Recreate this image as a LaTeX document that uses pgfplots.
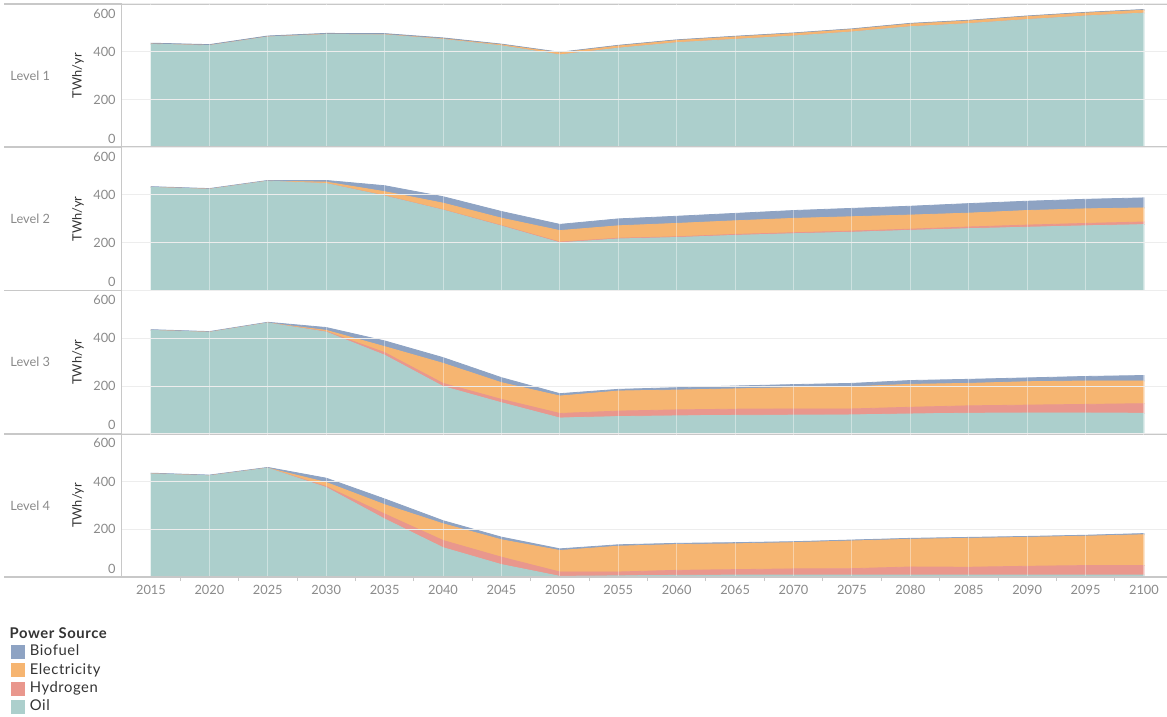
\documentclass[border=0pt]{standalone}
\usepackage{pgfplots}
\usepackage{pgfplotstable}
\pgfplotsset{compat=1.18}
\usepackage{fontspec}
\setmainfont{Lato}

\definecolor{oilc}{HTML}{ACCFCC}
\definecolor{hydc}{HTML}{E9978D}
\definecolor{elec}{HTML}{F6B571}
\definecolor{bioc}{HTML}{8EA3C3}
\definecolor{sepgray}{HTML}{C8C8C8}
\definecolor{gridgray}{HTML}{EDEDED}
\definecolor{tickgray}{HTML}{8A8A8A}
\definecolor{darktext}{HTML}{333333}

\newcommand\tickfont{\fontsize{6.4}{7.6}\selectfont}
\newcommand\legfont{\fontsize{7.4}{8.6}\selectfont\addfontfeature{LetterSpace=4}}

% year oil hydrogen electricity biofuel  (TWh/yr)
\pgfplotstableread{
year oil hyd elec bio
2015 432 0 0 4
2020 426 0 0 4
2025 462 0 0 4
2030 472 0 1 4
2035 471 0 1 4
2040 452 0 2 4
2045 425 0 4 3
2050 387 0 8 3
2055 415 0 9 3
2060 438 0 9 3
2065 452 0 10 3
2070 466 0 10 3
2075 483 0 10 3
2080 505 0 11 3
2085 518 0 11 3
2090 535 0 12 3
2095 550 0 12 3
2100 562 0 12 3
}\levelA

\pgfplotstableread{
year oil hyd elec bio
2015 432 0 0 3
2020 424 0 0 3
2025 458 0 0 3
2030 448 0 6 7
2035 396 1 17 25
2040 337 1 28 27
2045 270 2 31 28
2050 200 3 48 26
2055 216 3 52 29
2060 222 3 56 30
2065 231 4 57 31
2070 238 4 60 33
2075 244 5 60 35
2080 252 5 59 37
2085 259 7 58 40
2090 265 9 61 39
2095 271 10 61 40
2100 276 11 59 42
}\levelB

\pgfplotstableread{
year oil hyd elec bio
2015 433 0 0 3
2020 425 0 0 3
2025 464 0 0 3
2030 426 2 5 12
2035 329 11 25 24
2040 198 13 84 24
2045 130 14 70 21
2050 66 19 73 10
2055 72 23 84 7
2060 75 25 83 10
2065 77 26 85 12
2070 78 26 89 13
2075 79 25 93 14
2080 83 28 96 16
2085 86 31 94 17
2090 87 33 98 16
2095 87 36 98 19
2100 86 40 95 23
}\levelC

\pgfplotstableread{
year oil hyd elec bio
2015 432 0 0 3
2020 424 0 0 3
2025 456 0 0 3
2030 375 4 17 18
2035 243 21 39 24
2040 123 30 70 13
2045 52 31 73 11
2050 3 18 90 7
2055 5 16 108 6
2060 7 21 108 5
2065 8 23 108 5
2070 8 26 110 4
2075 8 27 116 4
2080 8 34 116 4
2085 8 33 121 4
2090 8 37 121 4
2095 8 40 123 4
2100 8 40 129 5
}\levelD

\pgfplotsset{
  panel/.style={
    scale only axis, width=522.5pt, height=71.625pt,
    anchor=north west,
    xmin=2012.52, xmax=2101.97, ymin=0, ymax=600,
    axis lines*=left,
    x axis line style={draw=sepgray, line width=0.8pt},
    y axis line style={draw=sepgray, line width=0.5pt},
    xtick={2015,2020,...,2100}, ytick={0,200,400,600},
    yticklabels={,200,400,},
    grid=major,
    x grid style={white, opacity=0.4, line width=0.5pt},
    y grid style={gridgray, line width=0.5pt},
    axis on top, clip=false,
    major tick length=0pt,
    tick label style={font=\tickfont, text=tickgray},
    yticklabel style={inner sep=0pt, xshift=-3pt},
    ylabel={TWh/yr},
    ylabel style={at={(axis description cs:-0.0421,0.5)}, anchor=center,
      font=\tickfont, text=darktext},
    stack plots=y,
  },
  noxlabels/.style={xticklabels={}},
}
\tikzset{
  lvl/.style={anchor=west, inner sep=0pt, font=\tickfont, text=tickgray},
  tlo/.style={anchor=south east, inner sep=0pt, font=\tickfont, text=tickgray,
    xshift=-3pt, yshift=1.75pt},
  thi/.style={anchor=north east, inner sep=0pt, font=\tickfont, text=tickgray,
    xshift=-3pt, yshift=-2.25pt},
}

\begin{document}
\begin{tikzpicture}
\useasboundingbox (0pt,0pt) rectangle (583.5pt,-358.5pt);

\begin{axis}[panel, noxlabels, at={(61pt,-2pt)}]
\addplot[fill=oilc, draw=oilc, line width=0.4pt] table[x=year, y=oil] {\levelA} \closedcycle;
\addplot[fill=hydc, draw=hydc, line width=0.4pt] table[x=year, y=hyd] {\levelA} \closedcycle;
\addplot[fill=elec, draw=elec, line width=0.4pt] table[x=year, y=elec] {\levelA} \closedcycle;
\addplot[fill=bioc, draw=bioc!80!gray, line width=0.4pt] table[x=year, y=bio] {\levelA} \closedcycle;
\node[lvl] at (axis description cs:-0.1072,0.5) {Level 1};
\node[tlo] at (axis description cs:0,0) {0};
\node[thi] at (axis description cs:0,1) {600};
\draw[sepgray, line width=0.8pt] (axis description cs:-0.1129,0) -- (axis description cs:0,0);
\draw[sepgray, line width=0.6pt] (axis description cs:-0.1129,1) -- (axis description cs:1,1);
\end{axis}

\begin{axis}[panel, noxlabels, at={(61pt,-73.625pt)}]
\addplot[fill=oilc, draw=oilc, line width=0.4pt] table[x=year, y=oil] {\levelB} \closedcycle;
\addplot[fill=hydc, draw=hydc, line width=0.4pt] table[x=year, y=hyd] {\levelB} \closedcycle;
\addplot[fill=elec, draw=elec, line width=0.4pt] table[x=year, y=elec] {\levelB} \closedcycle;
\addplot[fill=bioc, draw=bioc, line width=0.4pt] table[x=year, y=bio] {\levelB} \closedcycle;
\node[lvl] at (axis description cs:-0.1072,0.5) {Level 2};
\node[tlo] at (axis description cs:0,0) {0};
\node[thi] at (axis description cs:0,1) {600};
\draw[sepgray, line width=0.8pt] (axis description cs:-0.1129,0) -- (axis description cs:0,0);
\end{axis}

\begin{axis}[panel, noxlabels, at={(61pt,-145.25pt)}]
\addplot[fill=oilc, draw=oilc, line width=0.4pt] table[x=year, y=oil] {\levelC} \closedcycle;
\addplot[fill=hydc, draw=hydc, line width=0.4pt] table[x=year, y=hyd] {\levelC} \closedcycle;
\addplot[fill=elec, draw=elec, line width=0.4pt] table[x=year, y=elec] {\levelC} \closedcycle;
\addplot[fill=bioc, draw=bioc, line width=0.4pt] table[x=year, y=bio] {\levelC} \closedcycle;
\node[lvl] at (axis description cs:-0.1072,0.5) {Level 3};
\node[tlo] at (axis description cs:0,0) {0};
\node[thi] at (axis description cs:0,1) {600};
\draw[sepgray, line width=0.8pt] (axis description cs:-0.1129,0) -- (axis description cs:0,0);
\end{axis}

\begin{axis}[panel, at={(61pt,-216.875pt)},
  xticklabel style={inner sep=0pt, yshift=-3.75pt,
    /pgf/number format/.cd, 1000 sep={}, assume math mode=true},
  minor x tick num=1, minor tick length=2pt,
  minor tick style={sepgray, line width=0.4pt},
  xtick align=outside, xtick pos=bottom,
  legend style={at={(axis description cs:-0.1062,-0.4726)}, anchor=north west,
    draw=none, fill=none, inner sep=0pt, outer sep=0pt, row sep=2.2pt,
    column sep=2.5pt, font=\legfont, text=darktext,
    nodes={inner sep=0pt, text height=5.5pt, text depth=1.5pt}},
  legend cell align=left, reverse legend,
  legend image code/.code={\fill[#1] (0pt,-3.25pt) rectangle (6.5pt,3.25pt);},
]
\addplot[fill=oilc, draw=oilc, line width=0.4pt] table[x=year, y=oil] {\levelD} \closedcycle;
\addlegendentry{Oil}
\addplot[fill=hydc, draw=hydc, line width=0.4pt] table[x=year, y=hyd] {\levelD} \closedcycle;
\addlegendentry{Hydrogen}
\addplot[fill=elec, draw=elec, line width=0.4pt] table[x=year, y=elec] {\levelD} \closedcycle;
\addlegendentry{Electricity}
\addplot[fill=bioc, draw=bioc, line width=0.4pt] table[x=year, y=bio] {\levelD} \closedcycle;
\addlegendentry{Biofuel}
\node[lvl] at (axis description cs:-0.1072,0.5) {Level 4};
\node[tlo] at (axis description cs:0,0) {0};
\node[thi] at (axis description cs:0,1) {600};
\draw[sepgray, line width=0.8pt] (axis description cs:-0.1129,0) -- (axis description cs:0,0);
\node[anchor=base west, inner sep=0pt, font=\legfont\bfseries, text=darktext]
  at (axis description cs:-0.1078,-0.428) {Power Source};
\end{axis}
\end{tikzpicture}
\end{document}
